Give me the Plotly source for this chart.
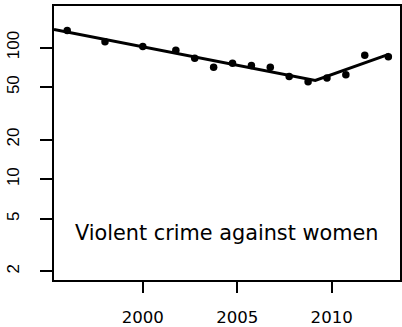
import plotly.graph_objects as go

# Observed data (rate, log scale)
years = [1996, 1998, 2000, 2001.75, 2002.75, 2003.75, 2004.75, 2005.75,
         2006.75, 2007.75, 2008.75, 2009.75, 2010.75, 2011.75, 2013.0]
values = [134.7, 110.9, 101.7, 95.5, 82.8, 71.0, 76.0, 73.0,
          71.0, 60.4, 54.9, 58.8, 62.1, 87.6, 85.1]

# Segmented (joinpoint) fit
fit_years = [1995.3, 2009.13, 2013.05]
fit_values = [137.0, 56.3, 89.1]

x_ticks = [2000, 2005, 2010]
y_ticks = [2, 5, 10, 20, 50, 100]
label = "Violent crime against women"

fig = go.Figure()
fig.add_trace(go.Scatter(x=fit_years, y=fit_values, mode="lines",
                         line=dict(color="black", width=3), hoverinfo="skip"))
fig.add_trace(go.Scatter(x=years, y=values, mode="markers",
                         marker=dict(color="black", size=7.5)))

fig.update_layout(
    width=402, height=327,
    margin=dict(l=54, r=0, t=6, b=42),
    paper_bgcolor="white", plot_bgcolor="white",
    showlegend=False,
    xaxis=dict(range=[1995.3, 2013.616], tickvals=x_ticks,
               ticktext=[str(t) for t in x_ticks],
               showgrid=False, zeroline=False,
               showline=True, mirror=True, linecolor="black", linewidth=1.5,
               ticks="outside", ticklen=11, tickwidth=1.5, tickcolor="black",
               tickfont=dict(family="DejaVu Sans", size=16.6, color="black"),
               ticklabelstandoff=10),
    yaxis=dict(type="log", range=[0.234, 2.316], tickvals=y_ticks,
               ticktext=[str(t) for t in y_ticks],
               showgrid=False, zeroline=False,
               showline=True, mirror=True, linecolor="black", linewidth=1.5,
               ticks="outside", ticklen=12, tickwidth=1.5, tickcolor="black",
               tickangle=-90,
               tickfont=dict(family="Liberation Sans", size=17, color="black"),
               ticklabelstandoff=14),
    annotations=[dict(text=label, xref="paper", yref="paper",
                      x=(72.7 - 54) / 348, y=(285 - 237.5) / 279,
                      xanchor="left", yanchor="middle", showarrow=False,
                      font=dict(family="DejaVu Sans", size=20.8, color="black"))],
)

fig.write_html("out.html")
